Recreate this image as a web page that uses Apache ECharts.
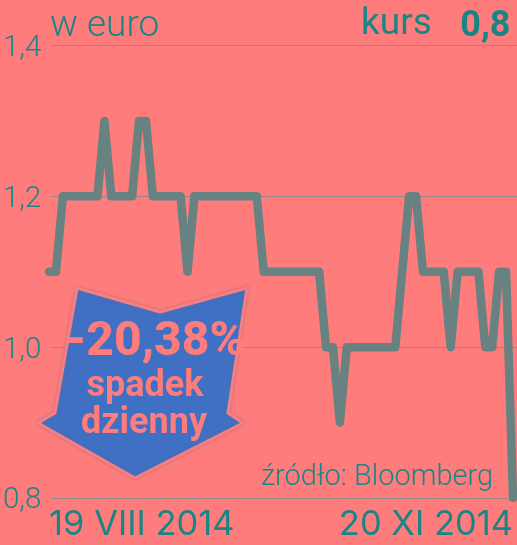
<!DOCTYPE html>
<html><head><meta charset="utf-8">
<style>html,body{margin:0;padding:0;background:#ff7c7c}#c{width:517px;height:545px}</style>
<script src="https://cdn.jsdelivr.net/npm/echarts@6/dist/echarts.min.js"></script>
</head><body><div id="c"></div>
<script>
const categories = ['19 VIII 2014','20 VIII','21 VIII','22 VIII','25 VIII','26 VIII','27 VIII','28 VIII','29 VIII',
 '1 IX','2 IX','3 IX','4 IX','5 IX','8 IX','9 IX','10 IX','11 IX','12 IX','15 IX','16 IX','17 IX','18 IX','19 IX','22 IX','23 IX','24 IX','25 IX','26 IX','29 IX','30 IX',
 '1 X','2 X','3 X','6 X','7 X','8 X','9 X','10 X','13 X','14 X','15 X','16 X','17 X','20 X','21 X','22 X','23 X','24 X','27 X','28 X','29 X','30 X','31 X',
 '3 XI','4 XI','5 XI','6 XI','7 XI','10 XI','11 XI','12 XI','13 XI','14 XI','17 XI','18 XI','19 XI','20 XI 2014'];
const kurs = [1.1,1.1,1.2,1.2,1.2,1.2,1.2,1.2,1.3,1.2,1.2,1.2,1.2,1.3,1.3,1.2,1.2,1.2,1.2,1.2,1.1,1.2,1.2,1.2,1.2,1.2,1.2,1.2,1.2,1.2,1.2,
 1.1,1.1,1.1,1.1,1.1,1.1,1.1,1.1,1.1,1.0,1.0,0.9,1.0,1.0,1.0,1.0,1.0,1.0,1.0,1.0,1.1,1.2,1.2,
 1.1,1.1,1.1,1.1,1.0,1.1,1.1,1.1,1.1,1.0,1.0,1.1,1.1,0.8];
const yMin = 0.8, yMax = 1.4, yStep = 0.2;
const teal = '#1a8585';
const thin = 'Roboto, sans-serif';
const arrowShape = [[77,288],[160,312],[247,288],[228,413],[243,423],[135,478],[38,423],[55,413]];
const chart = echarts.init(document.getElementById('c'), null, {renderer:'canvas'});
chart.setOption({
  animation:false,
  backgroundColor:'#ff7c7c',
  grid:[
    {left:46,right:0,top:45.5,bottom:47},
    {left:49,right:4,top:45.5,bottom:47}
  ],
  xAxis:[
    {gridIndex:0,type:'value',min:0,max:1,show:false},
    {gridIndex:1,type:'category',data:categories,boundaryGap:false,
     axisLine:{show:false},axisTick:{show:false},splitLine:{show:false},
     axisLabel:{interval:(i)=>i===0||i===categories.length-1,alignMinLabel:'left',alignMaxLabel:'right',
       color:teal,fontSize:34.5,fontFamily:'Inter, Roboto, sans-serif',margin:9,hideOverlap:false,showMinLabel:true,showMaxLabel:true}}
  ],
  yAxis:[
    {gridIndex:0,type:'value',min:yMin,max:yMax,interval:yStep,
     axisLine:{show:false},axisTick:{show:false},
     splitLine:{lineStyle:{color:'#948a8a',width:1}},
     axisLabel:{margin:9,
       rich:{t:{color:teal,fontSize:29.5,fontWeight:300,fontFamily:thin,padding:[6,0,0,0]}},
       formatter:(v)=>'{t|'+v.toFixed(1).replace('.',',')+'}'}},
    {gridIndex:1,type:'value',min:yMin,max:yMax,interval:yStep,show:false}
  ],
  series:[{type:'line',xAxisIndex:1,yAxisIndex:1,data:kurs,showSymbol:false,symbol:'none',
    lineStyle:{color:'#688282',width:8.5,cap:'round',join:'round'},z:3}],
  graphic:[
    {type:'polygon',z:10,shape:{points:arrowShape},
     style:{fill:'#3f70c4',stroke:'#f47f86',lineWidth:3,lineJoin:'round',shadowBlur:3,shadowColor:'rgba(120,110,110,0.5)'}},
    {type:'text',z:11,x:155.5,y:343,style:{text:'-20,38%',fill:'#ff7c7c',font:'800 48px Roboto, sans-serif',align:'center',verticalAlign:'middle'}},
    {type:'text',z:11,x:145,y:387,style:{text:'spadek',fill:'#ff7c7c',font:'700 36px Roboto, sans-serif',align:'center',verticalAlign:'middle'}},
    {type:'text',z:11,x:144,y:424,style:{text:'dzienny',fill:'#ff7c7c',font:'700 36px Roboto, sans-serif',align:'center',verticalAlign:'middle'}},
    {type:'text',z:5,x:50,y:27,style:{text:'w euro',fill:teal,font:'300 37px '+thin,verticalAlign:'middle'}},
    {type:'text',z:5,x:361,y:25,style:{text:'kurs',fill:teal,font:'400 37px Roboto, sans-serif',verticalAlign:'middle'}},
    {type:'text',z:5,x:510.5,y:27,style:{text:'0,8',fill:teal,font:'700 36px Roboto, sans-serif',align:'right',verticalAlign:'middle'}},
    {type:'text',z:5,x:261,y:478,style:{text:'źródło: Bloomberg',fill:teal,font:'300 29px '+thin,verticalAlign:'middle'}}
  ]
});
</script></body></html>
